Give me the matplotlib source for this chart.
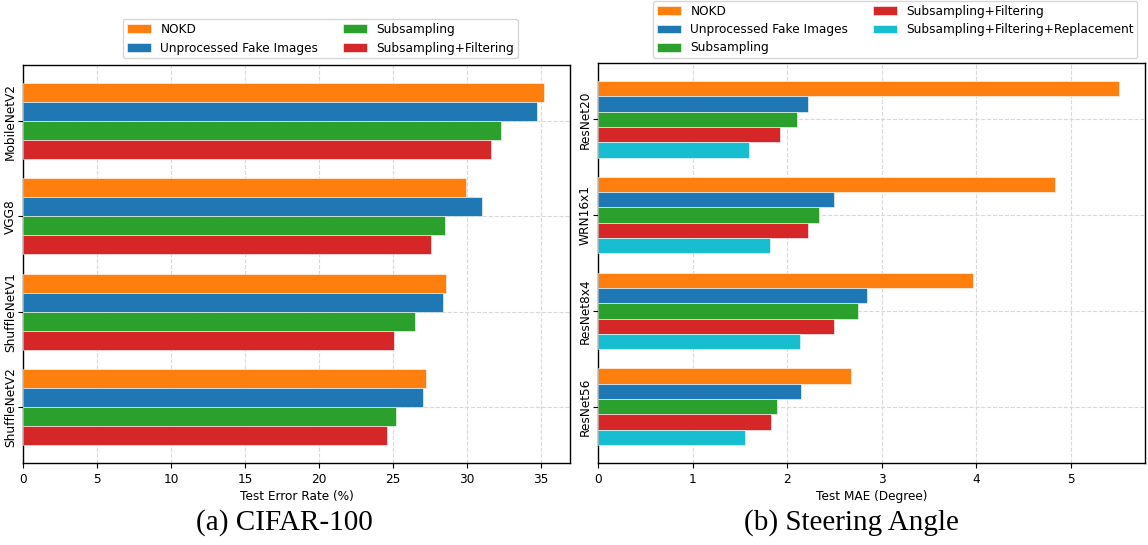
import matplotlib
matplotlib.use("Agg")
import matplotlib.pyplot as plt
import numpy as np

# ---- data ----
cifar_models = ["ShuffleNetV2", "ShuffleNetV1", "VGG8", "MobileNetV2"]  # bottom -> top
cifar_nokd = [27.2, 28.6, 29.9, 35.2]
cifar_unproc = [27.0, 28.4, 31.0, 34.7]
cifar_sub = [25.2, 26.5, 28.5, 32.3]
cifar_subfilt = [24.6, 25.1, 27.6, 31.6]

steer_models = ["ResNet56", "ResNet8x4", "WRN16x1", "ResNet20"]  # bottom -> top
steer_nokd = [2.68, 3.97, 4.83, 5.51]
steer_unproc = [2.15, 2.85, 2.50, 2.22]
steer_sub = [1.89, 2.75, 2.34, 2.11]
steer_subfilt = [1.83, 2.50, 2.22, 1.93]
steer_subfiltrep = [1.55, 2.14, 1.82, 1.60]

labels = ["NOKD", "Unprocessed Fake Images", "Subsampling",
          "Subsampling+Filtering", "Subsampling+Filtering+Replacement"]
colors = ["#ff7f0e", "#1f77b4", "#2ca02c", "#d62728", "#17becf"]

W, H = 1148, 545
fig = plt.figure(figsize=(W / 100, H / 100), dpi=100)
plt.rcParams['font.family'] = ['DejaVu Sans']
FS = 8.7


def px_axes(x0, y0, x1, y1):
    return fig.add_axes([x0 / W, 1 - y1 / H, (x1 - x0) / W, (y1 - y0) / H])


def draw(ax, models, series, h, offsets):
    y = np.arange(len(models))
    handles = []
    for vals, off, c, lab in zip(series, offsets, colors, labels):
        b = ax.barh(y + off, vals, height=h, color=c, edgecolor='white',
                    linewidth=0.4, label=lab, zorder=3)
        handles.append(b)
    ax.set_yticks(y)
    ax.set_yticklabels(models, rotation=90, va='center', fontsize=FS)
    ax.tick_params(axis='y', pad=0.8)
    ax.tick_params(axis='x', labelsize=FS)
    ax.grid(True, linestyle='--', color='#d9d9d9', linewidth=0.8, zorder=0)
    ax.set_axisbelow(True)
    for s in ax.spines.values():
        s.set_linewidth(1.0)
    return handles


ax1 = px_axes(23, 65, 570, 463)
h1 = draw(ax1, cifar_models, [cifar_nokd, cifar_unproc, cifar_sub, cifar_subfilt],
          0.2, [0.3, 0.1, -0.1, -0.3])
ax1.set_xlabel("Test Error Rate (%)", fontsize=FS, labelpad=3)

ax2 = px_axes(598, 63, 1145, 463)
h2 = draw(ax2, steer_models,
          [steer_nokd, steer_unproc, steer_sub, steer_subfilt, steer_subfiltrep],
          0.16, [0.32, 0.16, 0.0, -0.16, -0.32])
ax2.set_xlabel("Test MAE (Degree)", fontsize=FS, labelpad=3)

leg1 = fig.legend(handles=h1, labels=labels[:4], ncol=2, fontsize=FS,
                  loc='upper left', bbox_to_anchor=(123 / W, 1 - 19 / H),
                  borderaxespad=0, columnspacing=2.0, borderpad=0.3)
leg2 = fig.legend(handles=h2, labels=labels, ncol=2, fontsize=FS,
                  loc='upper left', bbox_to_anchor=(653 / W, 1 - 1 / H),
                  borderaxespad=0, columnspacing=2.0, borderpad=0.3,
                  labelspacing=0.45)

fig.text(284.5 / W, 1 - 523 / H, "(a) CIFAR-100", ha='center', va='center',
         fontsize=21, family='Liberation Serif')
fig.text(851.5 / W, 1 - 523 / H, "(b) Steering Angle", ha='center', va='center',
         fontsize=21, family='Liberation Serif')

fig.savefig("out.png", dpi=100)
